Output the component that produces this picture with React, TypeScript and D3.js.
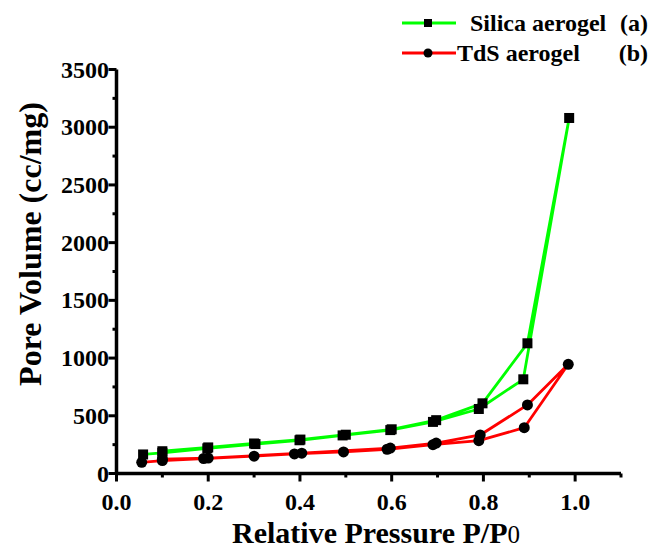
import React from 'react';
import * as d3 from 'd3';

// silica aerogel isotherm, adsorption then desorption branch
const silicaAdsP = [0.058, 0.1, 0.198, 0.303, 0.399, 0.493, 0.597, 0.69, 0.79, 0.887, 0.987];
const silicaAdsV = [165, 178, 218, 255, 288, 330, 376, 447, 559, 816, 3080];
const silicaDesP = [0.896, 0.798, 0.697, 0.6, 0.5, 0.401, 0.3, 0.2, 0.1];
const silicaDesV = [1128, 608, 462, 383, 336, 294, 260, 226, 193];

// TdS aerogel isotherm
const tdsAdsP = [0.055, 0.1, 0.19, 0.3, 0.388, 0.495, 0.59, 0.69, 0.79, 0.889, 0.985];
const tdsAdsV = [97, 112, 130, 150, 170, 187, 210, 250, 284, 397, 946];
const tdsDesP = [0.896, 0.793, 0.697, 0.597, 0.404, 0.2, 0.1];
const tdsDesV = [594, 334, 264, 220, 176, 134, 124];

const xTicks = [0, 0.2, 0.4, 0.6, 0.8, 1.0];
const yTicks = [0, 500, 1000, 1500, 2000, 2500, 3000, 3500];

const W = 651;
const H = 550;
const FONT = "'Liberation Serif', 'Times New Roman', Times, serif";
const GREEN = '#00ff00';
const RED = '#ff0000';

const x = d3.scaleLinear().domain([0, 1.1]).range([116.5, 621]);
const y = d3.scaleLinear().domain([0, 3500]).range([473.5, 69.5]);

function toPts(ps, vs) {
  return ps.map((p, i) => [p, vs[i]]);
}

const line = d3
  .line()
  .x(d => x(d[0]))
  .y(d => y(d[1]));

const txt = { fontFamily: FONT, fontWeight: 'bold' };

export default function App() {
  const silica = [...toPts(silicaAdsP, silicaAdsV), ...toPts(silicaDesP, silicaDesV)];
  const tds = [...toPts(tdsAdsP, tdsAdsV), ...toPts(tdsDesP, tdsDesV)];

  const xMinor = d3.range(0, 12).map(i => i / 10);
  const yMinor = d3.range(0, 15).map(i => i * 250);

  return (
    <svg
      width={W}
      height={H}
      style={{ position: 'absolute', left: 0, top: 0, background: 'white' }}
    >
      {/* series lines */}
      <path d={line(silica)} fill="none" stroke={GREEN} strokeWidth={2.8} strokeLinejoin="round" />
      <path d={line(tds)} fill="none" stroke={RED} strokeWidth={2.8} strokeLinejoin="round" />

      {/* markers */}
      {silica.map((d, i) => (
        <rect key={'s' + i} x={x(d[0]) - 5} y={y(d[1]) - 5} width={10} height={10} fill="black" />
      ))}
      {tds.map((d, i) => (
        <circle key={'t' + i} cx={x(d[0])} cy={y(d[1])} r={5.5} fill="black" />
      ))}

      {/* x axis */}
      <line x1={x(0) - 1.5} x2={x(1.1)} y1={y(0)} y2={y(0)} stroke="black" strokeWidth={3.5} />
      {xMinor.map(t => {
        const major = Math.round(t * 10) % 2 === 0;
        return (
          <line
            key={'xt' + t}
            x1={x(t)}
            x2={x(t)}
            y1={y(0)}
            y2={y(0) + (major ? 8 : 4)}
            stroke="black"
            strokeWidth={3}
          />
        );
      })}
      {xTicks.map(t => (
        <text key={'xl' + t} x={x(t)} y={510} textAnchor="middle" fontSize={24} style={txt}>
          {t.toFixed(1)}
        </text>
      ))}

      {/* y axis */}
      <line x1={x(0)} x2={x(0)} y1={y(0) + 1.5} y2={y(3500)} stroke="black" strokeWidth={3.5} />
      {yMinor.map(t => {
        const major = t % 500 === 0;
        return (
          <line
            key={'yt' + t}
            x1={x(0)}
            x2={x(0) - (major ? 8 : 4)}
            y1={y(t)}
            y2={y(t)}
            stroke="black"
            strokeWidth={3}
          />
        );
      })}
      {yTicks.map(t => (
        <text key={'yl' + t} x={109} y={y(t) + 8} textAnchor="end" fontSize={24} style={txt}>
          {t}
        </text>
      ))}

      {/* axis titles */}
      <text x={376} y={543} textAnchor="middle" fontSize={30} style={txt}>
        Relative Pressure P/P
        <tspan style={{ fontWeight: 'normal' }} fontSize={25}>0</tspan>
      </text>
      <text transform="translate(41,244) rotate(-90)" textAnchor="middle" fontSize={32} style={txt}>
        Pore Volume (cc/mg)
      </text>

      {/* legend */}
      <line x1={402} x2={456} y1={23} y2={23} stroke={GREEN} strokeWidth={2.8} />
      <rect x={424} y={19} width={8} height={8} fill="black" />
      <text x={470} y={31} fontSize={24} style={txt}>Silica aerogel</text>
      <text x={648} y={31} fontSize={24} textAnchor="end" style={txt}>(a)</text>

      <line x1={402} x2={456} y1={53} y2={53} stroke={RED} strokeWidth={2.8} />
      <circle cx={428} cy={53} r={4.5} fill="black" />
      <text x={457} y={61} fontSize={24} style={txt}>TdS aerogel</text>
      <text x={648} y={61} fontSize={24} textAnchor="end" style={txt}>(b)</text>
    </svg>
  );
}
